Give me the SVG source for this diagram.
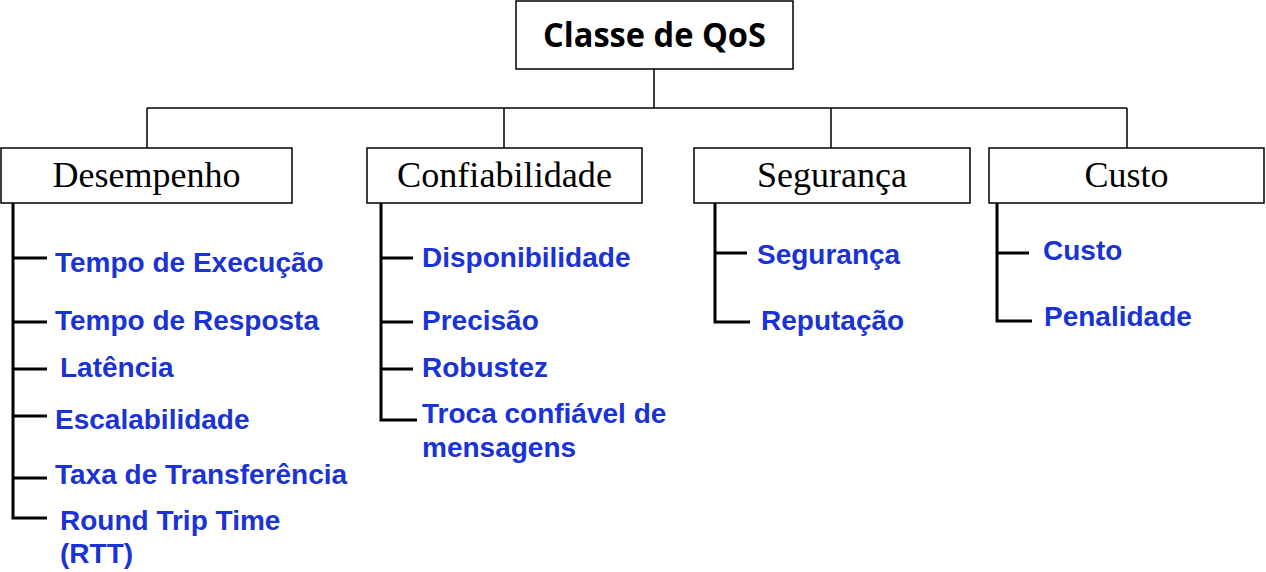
<svg xmlns="http://www.w3.org/2000/svg" width="1266" height="572" viewBox="0 0 1266 572">
<style>
.box{fill:#fff;stroke:#000;stroke-width:1.5}
.cat{font-family:"Liberation Serif","Times New Roman",serif;font-size:36px;fill:#000;text-anchor:middle}
.item{font-family:"Liberation Sans",Arial,sans-serif;font-size:28px;font-weight:bold;fill:#1A33D4}
.thin{stroke:#000;stroke-width:1.5;fill:none}
.thick{stroke:#000;stroke-width:3;fill:none}
</style>
<rect width="1266" height="572" fill="#fff"/>
<g id="connectors">
<path class="thin" d="M654 69V108M147 108H1127M147 108V148M504 108V148M831 108V148M1127 108V148"/>
<path class="thick" d="M13 203V518H47M13 258H47M13 322H47M13 369H47M13 416H47M13 478H47"/>
<path class="thick" d="M381 203V420H417M381 258H413M381 322H413M381 369H413"/>
<path class="thick" d="M715 203V322H750M715 253H747"/>
<path class="thick" d="M997 203V321H1032M997 253H1029"/>
</g>
<g id="root">
<rect class="box" x="516" y="1" width="277" height="68"/>
<text x="654.5" y="47" font-family="'Open Sans','Noto Sans',sans-serif" font-weight="bold" font-size="34" text-anchor="middle" textLength="223" lengthAdjust="spacingAndGlyphs">Classe de QoS</text>
</g>
<g id="desempenho">
<rect class="box" x="1" y="148" width="291" height="55"/>
<text class="cat" x="146.5" y="187" textLength="188" lengthAdjust="spacingAndGlyphs">Desempenho</text>
<text class="item" x="55" y="272">Tempo de Execução</text>
<text class="item" x="55" y="330">Tempo de Resposta</text>
<text class="item" x="60" y="377">Latência</text>
<text class="item" x="55" y="429">Escalabilidade</text>
<text class="item" x="55" y="484">Taxa de Transferência</text>
<text class="item" x="60" y="530">Round Trip Time</text>
<text class="item" x="60" y="563">(RTT)</text>
</g>
<g id="confiabilidade">
<rect class="box" x="367" y="148" width="275" height="55"/>
<text class="cat" x="504.5" y="187" textLength="215" lengthAdjust="spacingAndGlyphs">Confiabilidade</text>
<text class="item" x="422" y="267">Disponibilidade</text>
<text class="item" x="422" y="330">Precisão</text>
<text class="item" x="422" y="377">Robustez</text>
<text class="item" x="422" y="423">Troca confiável de</text>
<text class="item" x="422" y="457">mensagens</text>
</g>
<g id="seguranca">
<rect class="box" x="694" y="148" width="276" height="55"/>
<text class="cat" x="832" y="187">Segurança</text>
<text class="item" x="757" y="264">Segurança</text>
<text class="item" x="761" y="330">Reputação</text>
</g>
<g id="custo">
<rect class="box" x="989" y="148" width="275" height="55"/>
<text class="cat" x="1126.5" y="187">Custo</text>
<text class="item" x="1043" y="260">Custo</text>
<text class="item" x="1044" y="326">Penalidade</text>
</g>
</svg>
